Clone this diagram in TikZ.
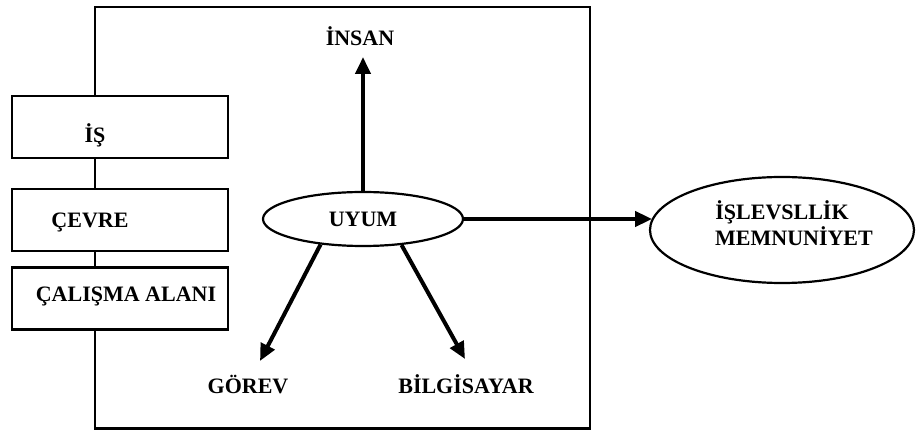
\documentclass[tikz,border=0pt]{standalone}
\usepackage{fontspec}
\setmainfont{Liberation Serif}
\usetikzlibrary{arrows.meta,shapes.geometric}
\begin{document}
\begin{tikzpicture}[x=1pt,y=-1pt,
  lbl/.style={font=\fontsize{22}{25}\selectfont\bfseries, inner sep=0pt, anchor=base},
  sidebox/.style={draw, line width=2.2pt, fill=white, minimum width=216pt, minimum height=62pt, inner sep=0pt},
  oval/.style={ellipse, draw, line width=2.2pt, fill=white, inner sep=0pt},
  arr/.style={line width=4pt, -{Triangle[length=17pt,width=15pt]}}
]
\useasboundingbox (0,0) rectangle (916,430);
\fill[white] (0,0) rectangle (916,430);

% outer frame
\draw[line width=2.4pt] (95,7) rectangle (590,428.5);

% stacked boxes on the left edge of the frame
\node[sidebox] (is)     at (120,127) {};
\node[sidebox] (cevre)  at (120,220) {};
\node[sidebox] (calisma) at (120,298.5) {};
\node[lbl] (isT)      at (95,143)  {İŞ};
\node[lbl] (cevreT)   at (90,228)  {ÇEVRE};
\node[lbl] (calismaT) at (126,302) {ÇALIŞMA ALANI};

% central ellipse
\node[oval, minimum width=200pt, minimum height=54pt,
      font=\fontsize{22}{25}\selectfont\bfseries] (uyum) at (363,219) {UYUM};

% outcome ellipse
\node[oval, minimum width=264pt, minimum height=106pt] (sonuc) at (782,230) {};
\node[lbl] (sonuc1) at (782,220) {İŞLEVSLLİK};
\node[lbl] (sonuc2) at (794,246) {MEMNUNİYET};

% labels of the three elements
\node[lbl] (insan)  at (360,46)  {İNSAN};
\node[lbl] (gorev)  at (248,393) {GÖREV};
\node[lbl] (bilgi)  at (466,393) {BİLGİSAYAR};

% arrow tips
\coordinate (insanUc) at (363,57);
\coordinate (gorevUc) at (260,361);
\coordinate (bilgiUc) at (465,359);

% connectors
\draw[arr] (uyum.north) -- (insanUc);
\draw[arr] (uyum.211) -- (gorevUc);
\draw[arr] (uyum.326) -- (bilgiUc);
\draw[arr, shorten >=-3.2pt] (uyum.east) -- (uyum.east -| sonuc.west);
\end{tikzpicture}
\end{document}
